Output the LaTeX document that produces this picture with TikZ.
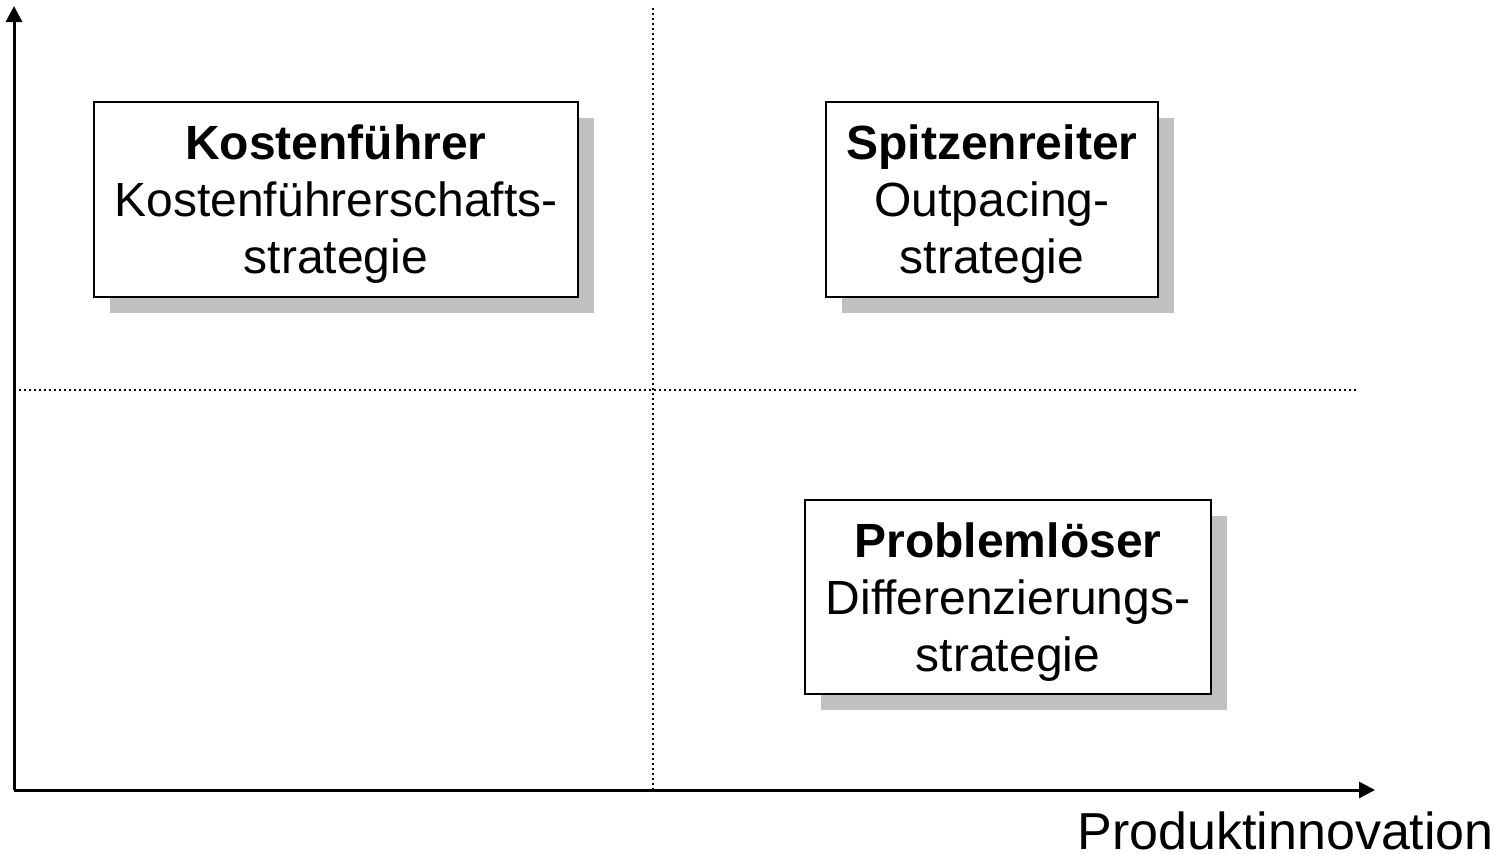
\documentclass[tikz,border=0pt]{standalone}
\usepackage{fontspec}
\setmainfont{Liberation Sans}[Ligatures=NoCommon]
\usetikzlibrary{arrows.meta,shadows}
\definecolor{shadowgray}{HTML}{C0C0C0}
\begin{document}
\begin{tikzpicture}[x=1pt,y=-1pt,
  axis/.style={line width=3pt,-{Triangle[length=16pt,width=16pt]}},
  divider/.style={line width=1.8pt,dash pattern=on 2pt off 3pt},
  strategybox/.style={draw,line width=2pt,fill=white,rectangle,inner sep=0pt,
    drop shadow={shadow xshift=16pt,shadow yshift=-16pt,fill=shadowgray,opacity=1}},
  boxtext/.style={align=center,inner sep=0pt,font=\fontsize{48}{57}\selectfont},
  axislabel/.style={font=\fontsize{52}{60}\selectfont,inner sep=0pt,text depth=0pt}]
\useasboundingbox (0,0) rectangle (1510,854);
% axes and quadrant dividers
\coordinate (origin) at (14,790);
\coordinate (ytop) at (14,6);
\coordinate (xend) at (1375,790);
\coordinate (vtop) at (653,8);
\coordinate (vbot) at (653,790);
\coordinate (hleft) at (14,390);
\coordinate (hright) at (1358,390);
\draw[divider] (vtop) -- (vbot);
\draw[divider] (hleft) -- (hright);
\draw[axis] (origin) -- (ytop);
\draw[axis] (origin) -- (xend);
% strategy boxes
\node[strategybox,minimum width=484pt,minimum height=195pt] (kosten) at (336,199.5) {};
\node[boxtext] (kostentext) at ([yshift=-5pt]kosten.center)
  {\textbf{Kostenführer}\\Kostenführerschafts-\\strategie};
\node[strategybox,minimum width=332pt,minimum height=195pt] (spitze) at (992,199.5) {};
\node[boxtext] (spitzetext) at ([yshift=-5pt]spitze.center)
  {\textbf{Spitzenreiter}\\Outpacing-\\strategie};
\node[strategybox,minimum width=406pt,minimum height=194pt] (problem) at (1008,597) {};
\node[boxtext] (problemtext) at ([yshift=-5pt]problem.center)
  {\textbf{Problemlöser}\\Differenzierungs-\\strategie};
\node[axislabel,anchor=base east] (xlabel) at (1494,849) {Produktinnovation};
\end{tikzpicture}
\end{document}
